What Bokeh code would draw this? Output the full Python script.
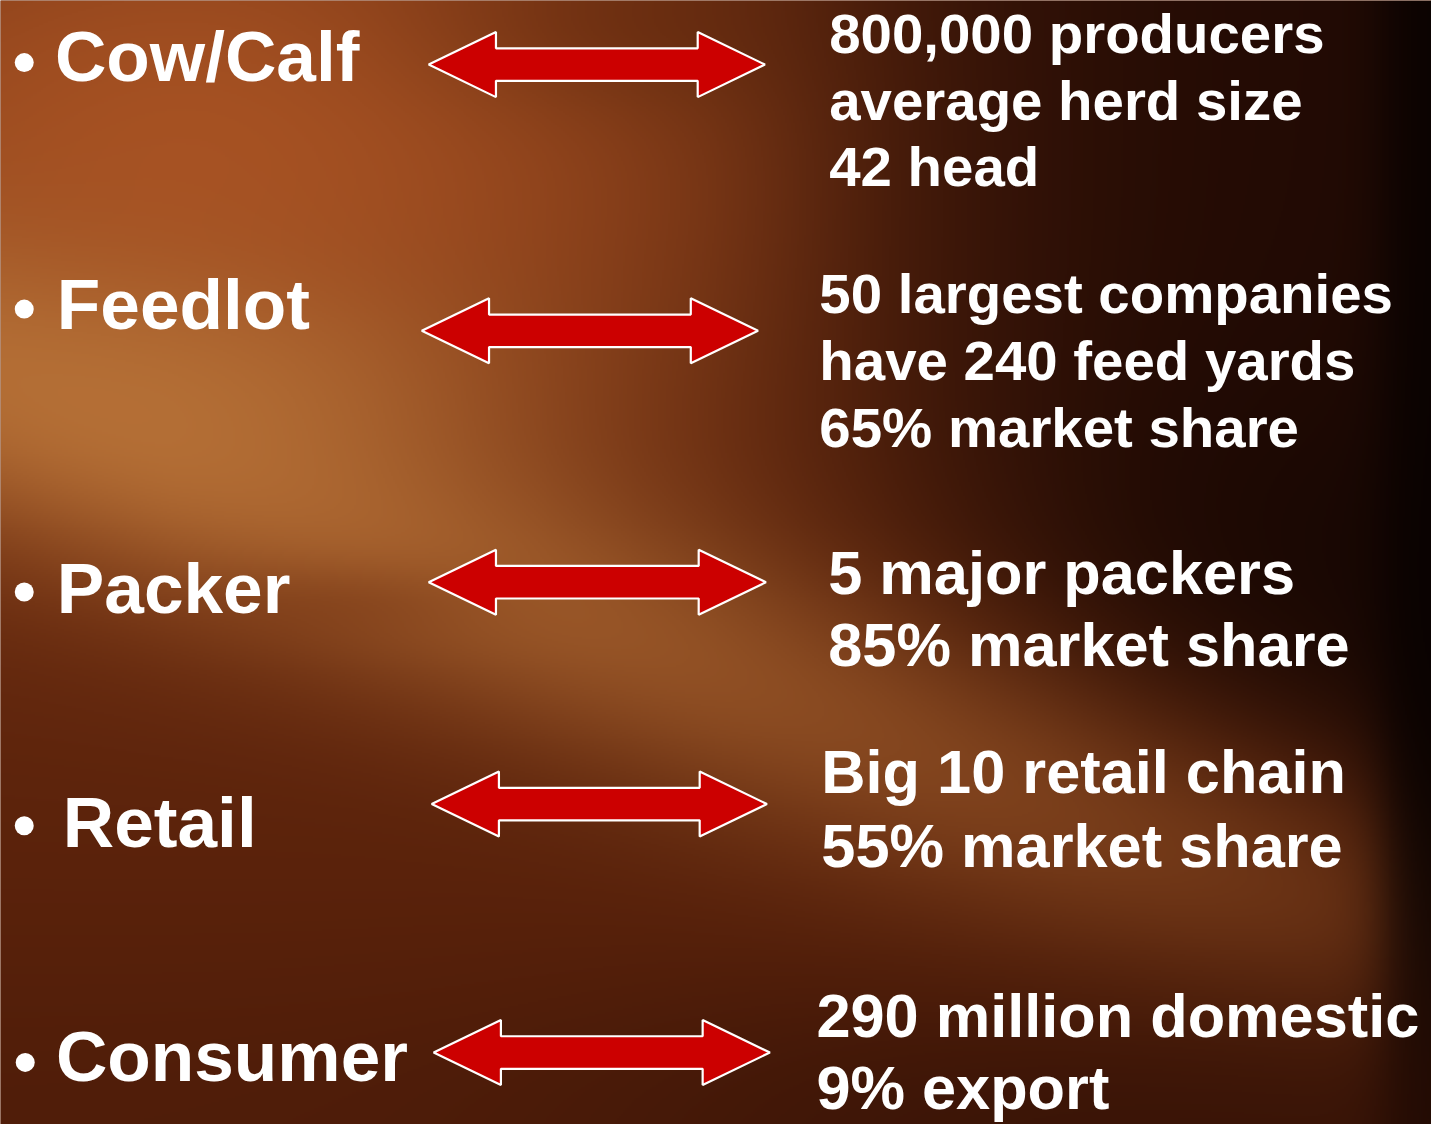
import numpy as np
from bokeh.plotting import figure
from bokeh.models import Range1d
from bokeh.core.properties import value
from bokeh.embed import file_html
from bokeh.resources import INLINE

# ---------------- data ----------------
stages = ["Cow/Calf", "Feedlot", "Packer", "Retail", "Consumer"]
facts = [
    ["800,000 producers", "average herd size", "42 head"],
    ["50 largest companies", "have 240 feed yards", "65% market share"],
    ["5 major packers", "85% market share"],
    ["Big 10 retail chain", "55% market share"],
    ["290 million domestic", "9% export"],
]

# ---------------- layout (reference pixel coords, y down) ----------------
W, H = 1447, 1140
label_x = [55, 57, 57, 63, 56]
label_base = [85, 336, 624, 862, 1099]
label_size = 72
bullet_xy = [(24, 63), (24, 313), (24, 600), (24, 837), (25, 1077)]
arrow_geo = [(433, 773, 65), (426, 766, 335), (433, 774, 590), (436, 775, 815), (438, 778, 1067)]
fact_x = [838, 828, 837, 830, 825]
fact_base = [[56, 124, 191], [319, 387, 455], [605, 678], [807, 882], [1054, 1127]]
fact_size = [57, 57, 62, 62, 62]

FW, FH = 1431, 1124
scale = FW / W
K = 0.39  # baseline correction for the svg text renderer

def fy(yref):
    return H - yref

def ty(base, fs):
    return H - (base - K * fs)

p = figure(width=FW, height=FH, output_backend="svg", toolbar_location=None,
           x_range=Range1d(0, W), y_range=Range1d(0, H), min_border=0)
p.axis.visible = False
p.grid.visible = False
p.outline_line_color = None
p.background_fill_color = "#6a2a0c"
p.border_fill_color = "#6a2a0c"

# ---------------- background image ----------------
nx, ny = 724, 570
xs = np.linspace(0, W, nx)
ys = np.linspace(H, 0, ny)  # row 0 = bottom of screen
X, Y = np.meshgrid(xs, ys)

def g(cx, cy, sx, sy):
    return np.exp(-((X - cx) / sx) ** 2 - ((Y - cy) / sy) ** 2)

def sig(t):
    return 1.0 / (1.0 + np.exp(-t))

col = np.zeros(X.shape + (3,))
col[:] = (90, 34, 11)

def blend(w, c):
    global col
    w = np.clip(w, 0, 1)[..., None]
    col = col * (1 - w) + np.array(c, float) * w

blend(0.95 * g(200, 150, 650, 380), (170, 84, 36))
slope = 0.40
d = ((Y - 385) - slope * X) / np.sqrt(1 + slope ** 2)
band = np.exp(-(d / 140) ** 2) * np.clip(1.1 - X / 1700, 0.3, 1)
blend(0.85 * band, (182, 112, 54))
blend(0.55 * g(200, 390, 320, 120), (186, 118, 58))
blend(0.35 * g(350, 610, 160, 40), (115, 50, 18))
blend(0.5 * g(650, 20, 220, 90), (95, 38, 12))
edge = 385 + slope * X - 160
blend(0.95 * sig((X - 980) / 110) * sig((edge - Y) / 55), (16, 4, 2))
blend(0.45 * sig((X - 850) / 60) * sig((450 - Y) / 80), (50, 16, 6))
blend(0.9 * sig((X - 1400) / 16), (8, 2, 1))
blend(0.6 * sig((Y - 1030) / 50) * sig((X - 700) / 150), (28, 8, 3))
blend(0.35 * sig((Y - 1000) / 60), (60, 20, 6))

rgba = np.empty((ny, nx), dtype=np.uint32)
view = rgba.view(dtype=np.uint8).reshape((ny, nx, 4))
view[..., 0] = np.clip(col[..., 0], 0, 255).astype(np.uint8)
view[..., 1] = np.clip(col[..., 1], 0, 255).astype(np.uint8)
view[..., 2] = np.clip(col[..., 2], 0, 255).astype(np.uint8)
view[..., 3] = 255
p.image_rgba(image=[rgba], x=0, y=0, dw=W, dh=H)

# ---------------- arrows ----------------
head, half, shaft = 68, 33, 16.5
axs, ays = [], []
for (l, r, c) in arrow_geo:
    px = [l, l + head, l + head, r - head, r - head, r, r - head, r - head, l + head, l + head]
    py = [c, c - half, c - shaft, c - shaft, c - half, c, c + half, c + shaft, c + shaft, c + half]
    axs.append(px)
    ays.append([fy(v) for v in py])
p.patches(axs, ays, fill_color="#CC0000", line_color="white", line_width=2.2)

# ---------------- bullets & labels ----------------
p.scatter([b[0] for b in bullet_xy], [fy(b[1]) for b in bullet_xy], marker="circle",
          size=19, fill_color="white", line_color=None)
p.text(label_x, [ty(v, label_size) for v in label_base], text=stages, text_color="white",
       text_font=value("Liberation Sans"), text_font_style="bold",
       text_font_size=f"{label_size * scale:.1f}px",
       text_baseline="alphabetic", text_align="left")

for i, lines in enumerate(facts):
    p.text([fact_x[i]] * len(lines), [ty(v, fact_size[i]) for v in fact_base[i]], text=lines,
           text_color="white", text_font=value("Liberation Sans"), text_font_style="bold",
           text_font_size=f"{fact_size[i] * scale:.1f}px", text_baseline="alphabetic",
           text_align="left")

open("out.html", "w").write(file_html(p, INLINE))
